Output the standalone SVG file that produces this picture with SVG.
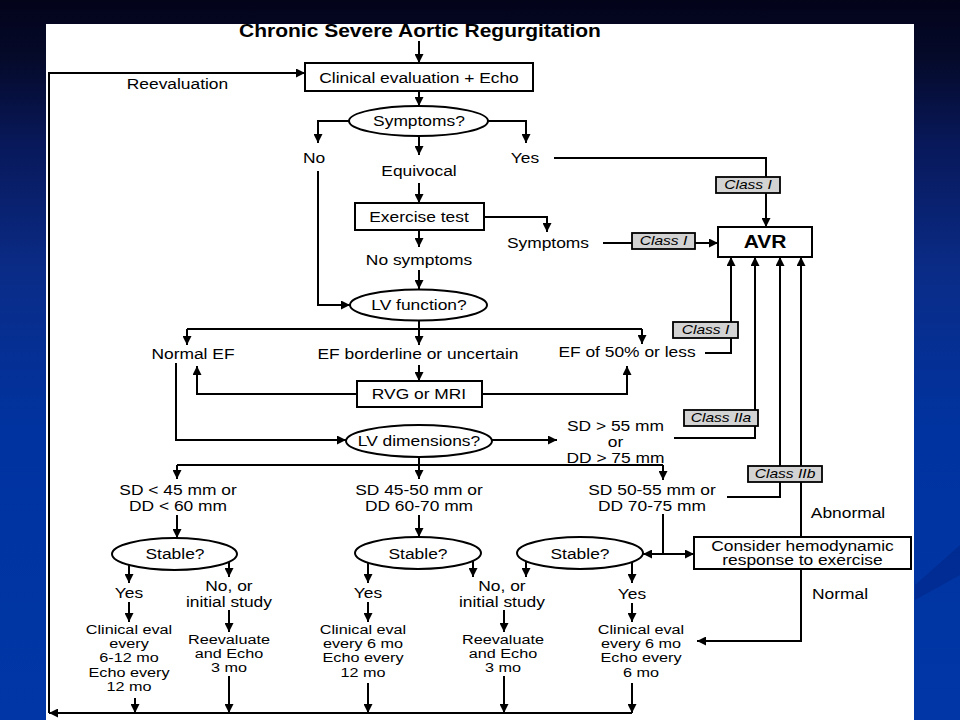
<svg xmlns="http://www.w3.org/2000/svg" width="960" height="720" viewBox="0 0 960 720">
<defs>
<linearGradient id="bg" x1="0" y1="0" x2="0" y2="1">
<stop offset="0" stop-color="#03031a"/>
<stop offset="0.08" stop-color="#050a2a"/>
<stop offset="0.2" stop-color="#08185a"/>
<stop offset="0.38" stop-color="#0a2c88"/>
<stop offset="0.6" stop-color="#0033a0"/>
<stop offset="1" stop-color="#0036a6"/>
</linearGradient>
<marker id="ah" viewBox="0 0 10 10" refX="10" refY="5" markerWidth="9" markerHeight="9" markerUnits="userSpaceOnUse" orient="auto">
<path d="M0,0 L10,5 L0,10 z" fill="#000"/>
</marker>
<style>
.ln{fill:none;stroke:#000;stroke-width:2}
.ar{marker-end:url(#ah)}
.box{fill:#fff;stroke:#000;stroke-width:2}
.cls{fill:#d3d3d3;stroke:#000;stroke-width:1.8}
.t{font-family:"Liberation Sans",Arial,Helvetica,sans-serif;font-size:14.5px;text-anchor:middle;fill:#000}
.b{font-weight:bold}
.s{font-size:13.5px}
.c{font-size:13px;font-style:italic}
</style>
</defs>
<rect x="0" y="0" width="960" height="720" fill="url(#bg)"/>
<path d="M915,585 L960,545 L960,575 L915,600 z" fill="#002a8c" opacity="0.7"/>
<rect x="46" y="24" width="868" height="696" fill="#fff"/>

<g id="title"><text class="t b" transform="scale(1.2 1)" x="350" y="37.5" style="font-size:17.5px">Chronic Severe Aortic Regurgitation</text></g>
<g id="reevaluation-label"><text class="t" transform="scale(1.2 1)" x="147.9" y="89">Reevaluation</text></g>

<g id="clinical-eval-echo"><rect class="box" x="305" y="63" width="228" height="28"/><text class="t" transform="scale(1.2 1)" x="349.17" y="83">Clinical evaluation + Echo</text></g>
<g id="symptoms-q"><ellipse class="box" cx="418.5" cy="121" rx="69.5" ry="15"/><text class="t" transform="scale(1.2 1)" x="349.17" y="126">Symptoms?</text></g>
<g id="no"><text class="t" transform="scale(1.2 1)" x="261.67" y="163">No</text></g>
<g id="yes"><text class="t" transform="scale(1.2 1)" x="437.5" y="163">Yes</text></g>
<g id="equivocal"><text class="t" transform="scale(1.2 1)" x="349.17" y="176">Equivocal</text></g>
<g id="exercise-test"><rect class="box" x="355" y="203" width="129" height="27"/><text class="t" transform="scale(1.2 1)" x="349.17" y="222">Exercise test</text></g>
<g id="symptoms"><text class="t" transform="scale(1.2 1)" x="456.67" y="248">Symptoms</text></g>
<g id="no-symptoms"><text class="t" transform="scale(1.2 1)" x="349.17" y="265">No symptoms</text></g>
<g id="avr"><rect class="box" x="718" y="227" width="94" height="30"/><text class="t b" transform="scale(1.2 1)" x="637.5" y="248.5" style="font-size:17.5px">AVR</text></g>
<g id="lv-function"><ellipse class="box" cx="418.5" cy="305" rx="68.5" ry="15.5"/><text class="t" transform="scale(1.2 1)" x="349.17" y="310">LV function?</text></g>
<g id="normal-ef"><text class="t" transform="scale(1.2 1)" x="160.83" y="359">Normal EF</text></g>
<g id="ef-borderline"><text class="t" transform="scale(1.2 1)" x="348.33" y="359">EF borderline or uncertain</text></g>
<g id="ef-50"><text class="t" transform="scale(1.2 1)" x="522.5" y="357">EF of 50% or less</text></g>
<g id="rvg-mri"><rect class="box" x="357" y="381" width="125" height="26"/><text class="t" transform="scale(1.2 1)" x="349.17" y="399">RVG or MRI</text></g>
<g id="lv-dimensions"><ellipse class="box" cx="419" cy="441" rx="73" ry="16"/><text class="t" transform="scale(1.2 1)" x="349.17" y="446">LV dimensions?</text></g>
<g id="sd-gt-55"><text class="t" transform="scale(1.2 1)" x="512.9" y="431">SD &gt; 55 mm</text><text class="t" transform="scale(1.2 1)" x="512.9" y="447">or</text><text class="t" transform="scale(1.2 1)" x="512.9" y="463">DD &gt; 75 mm</text></g>
<g id="sd-lt-45"><text class="t" transform="scale(1.2 1)" x="148.33" y="495">SD &lt; 45 mm or</text><text class="t" transform="scale(1.2 1)" x="148.33" y="511">DD &lt; 60 mm</text></g>
<g id="sd-45-50"><text class="t" transform="scale(1.2 1)" x="349.17" y="495">SD 45-50 mm or</text><text class="t" transform="scale(1.2 1)" x="349.17" y="511">DD 60-70 mm</text></g>
<g id="sd-50-55"><text class="t" transform="scale(1.2 1)" x="543.33" y="495">SD 50-55 mm or</text><text class="t" transform="scale(1.2 1)" x="543.33" y="511">DD 70-75 mm</text></g>
<g id="stable-1"><ellipse class="box" cx="174.5" cy="554" rx="62.5" ry="16"/><text class="t" transform="scale(1.2 1)" x="145.83" y="559">Stable?</text></g>
<g id="stable-2"><ellipse class="box" cx="418" cy="553" rx="63" ry="16"/><text class="t" transform="scale(1.2 1)" x="348.33" y="559">Stable?</text></g>
<g id="stable-3"><ellipse class="box" cx="580" cy="553" rx="63" ry="16"/><text class="t" transform="scale(1.2 1)" x="483.33" y="559">Stable?</text></g>
<g id="consider"><rect class="box" x="694" y="537" width="217" height="32"/><text class="t" transform="scale(1.2 1)" x="668.75" y="551">Consider hemodynamic</text><text class="t" transform="scale(1.2 1)" x="668.75" y="565.5">response to exercise</text></g>
<g id="abnormal"><text class="t" transform="scale(1.2 1)" x="706.67" y="518">Abnormal</text></g>
<g id="normal"><text class="t" transform="scale(1.2 1)" x="700" y="599">Normal</text></g>
<g id="yes-1"><text class="t" transform="scale(1.2 1)" x="107.5" y="598">Yes</text></g>
<g id="yes-2"><text class="t" transform="scale(1.2 1)" x="306.67" y="598">Yes</text></g>
<g id="yes-3"><text class="t" transform="scale(1.2 1)" x="526.67" y="599">Yes</text></g>
<g id="no-initial-1"><text class="t" transform="scale(1.2 1)" x="190.83" y="591">No, or</text><text class="t" transform="scale(1.2 1)" x="190.83" y="607">initial study</text></g>
<g id="no-initial-2"><text class="t" transform="scale(1.2 1)" x="418.33" y="591">No, or</text><text class="t" transform="scale(1.2 1)" x="418.33" y="607">initial study</text></g>
<g id="followup-1"><text class="t s" transform="scale(1.2 1)" x="107.5" y="634">Clinical eval</text><text class="t s" transform="scale(1.2 1)" x="107.5" y="648">every</text><text class="t s" transform="scale(1.2 1)" x="107.5" y="662.5">6-12 mo</text><text class="t s" transform="scale(1.2 1)" x="107.5" y="677">Echo every</text><text class="t s" transform="scale(1.2 1)" x="107.5" y="691">12 mo</text></g>
<g id="reeval-1"><text class="t s" transform="scale(1.2 1)" x="190.83" y="644">Reevaluate</text><text class="t s" transform="scale(1.2 1)" x="190.83" y="658">and Echo</text><text class="t s" transform="scale(1.2 1)" x="190.83" y="672">3 mo</text></g>
<g id="followup-2"><text class="t s" transform="scale(1.2 1)" x="302.5" y="634">Clinical eval</text><text class="t s" transform="scale(1.2 1)" x="302.5" y="648">every 6 mo</text><text class="t s" transform="scale(1.2 1)" x="302.5" y="662.5">Echo every</text><text class="t s" transform="scale(1.2 1)" x="302.5" y="677">12 mo</text></g>
<g id="reeval-2"><text class="t s" transform="scale(1.2 1)" x="419.17" y="644">Reevaluate</text><text class="t s" transform="scale(1.2 1)" x="419.17" y="658">and Echo</text><text class="t s" transform="scale(1.2 1)" x="419.17" y="672">3 mo</text></g>
<g id="followup-3"><text class="t s" transform="scale(1.2 1)" x="534.17" y="634">Clinical eval</text><text class="t s" transform="scale(1.2 1)" x="534.17" y="648">every 6 mo</text><text class="t s" transform="scale(1.2 1)" x="534.17" y="662.5">Echo every</text><text class="t s" transform="scale(1.2 1)" x="534.17" y="677">6 mo</text></g>

<g id="connectors">
<path class="ln ar" d="M419,41 V63"/>
<path class="ln ar" d="M632,713 H49"/>
<path class="ln ar" d="M49,713 V73 H305"/>
<path class="ln ar" d="M419,91 V106"/>
<path class="ln ar" d="M349,121 H318 V143"/>
<path class="ln ar" d="M488,121 H526 V143"/>
<path class="ln ar" d="M419,136 V155"/>
<path class="ln ar" d="M318,171 V305 H350"/>
<path class="ln ar" d="M419,183 V203"/>
<path class="ln ar" d="M484,217 H547 V232"/>
<path class="ln ar" d="M419,230 V247"/>
<path class="ln" d="M603,243 H632"/>
<path class="ln ar" d="M695,243 H718"/>
<path class="ln" d="M554,158 H766 V177"/>
<path class="ln ar" d="M766,193 V227"/>
<path class="ln ar" d="M419,270 V289"/>
<path class="ln ar" d="M419,320 V345"/>
<path class="ln" d="M187,329 H642"/>
<path class="ln ar" d="M187,329 V345"/>
<path class="ln ar" d="M642,329 V344"/>
<path class="ln ar" d="M419,365 V381"/>
<path class="ln ar" d="M357,394 H197 V366"/>
<path class="ln ar" d="M482,394 H627 V366"/>
<path class="ln" d="M705,353 H731 V338"/>
<path class="ln ar" d="M731,322 V257"/>
<path class="ln ar" d="M176,363 V440 H346"/>
<path class="ln ar" d="M492,440 H557"/>
<path class="ln" d="M674,438 H755 V426"/>
<path class="ln ar" d="M755,410 V257"/>
<path class="ln ar" d="M419,457 V479"/>
<path class="ln" d="M177,465 H663"/>
<path class="ln ar" d="M177,465 V479"/>
<path class="ln ar" d="M663,465 V480"/>
<path class="ln ar" d="M177,515 V538"/>
<path class="ln ar" d="M419,515 V537"/>
<path class="ln" d="M663,514 V554"/>
<path class="ln ar" d="M663,554 H643"/>
<path class="ln ar" d="M663,554 H694"/>
<path class="ln" d="M727,497 H780 V482"/>
<path class="ln ar" d="M780,466 V257"/>
<path class="ln ar" d="M801,537 V257"/>
<path class="ln ar" d="M801,569 V641 H697"/>
<path class="ln ar" d="M129,565 V583"/>
<path class="ln ar" d="M229,562 V577"/>
<path class="ln ar" d="M368,563 V583"/>
<path class="ln ar" d="M473,561 V577"/>
<path class="ln ar" d="M526,561 V577"/>
<path class="ln ar" d="M632,562 V583"/>
<path class="ln ar" d="M129,602 V622"/>
<path class="ln ar" d="M368,602 V622"/>
<path class="ln ar" d="M632,603 V622"/>
<path class="ln ar" d="M229,610 V632"/>
<path class="ln ar" d="M504,610 V632"/>
<path class="ln ar" d="M135,698 V713"/>
<path class="ln ar" d="M229,676 V713"/>
<path class="ln ar" d="M368,683 V713"/>
<path class="ln ar" d="M504,676 V713"/>
<path class="ln ar" d="M632,683 V713"/>
</g>

<g id="class-labels">
<g id="class-i-yes"><rect class="cls" x="716" y="177" width="64" height="16"/><text class="t c" transform="scale(1.2 1)" x="623.33" y="189.5">Class I</text></g>
<g id="class-i-symptoms"><rect class="cls" x="632" y="233" width="63" height="16"/><text class="t c" transform="scale(1.2 1)" x="552.92" y="245.5">Class I</text></g>
<g id="class-i-ef"><rect class="cls" x="673" y="322" width="65" height="16"/><text class="t c" transform="scale(1.2 1)" x="587.92" y="334.5">Class I</text></g>
<g id="class-iia"><rect class="cls" x="684" y="410" width="74" height="16"/><text class="t c" transform="scale(1.2 1)" x="600.83" y="422.5">Class IIa</text></g>
<g id="class-iib"><rect class="cls" x="748" y="466" width="74" height="16"/><text class="t c" transform="scale(1.2 1)" x="654.17" y="478.5">Class IIb</text></g>
</g>
</svg>
